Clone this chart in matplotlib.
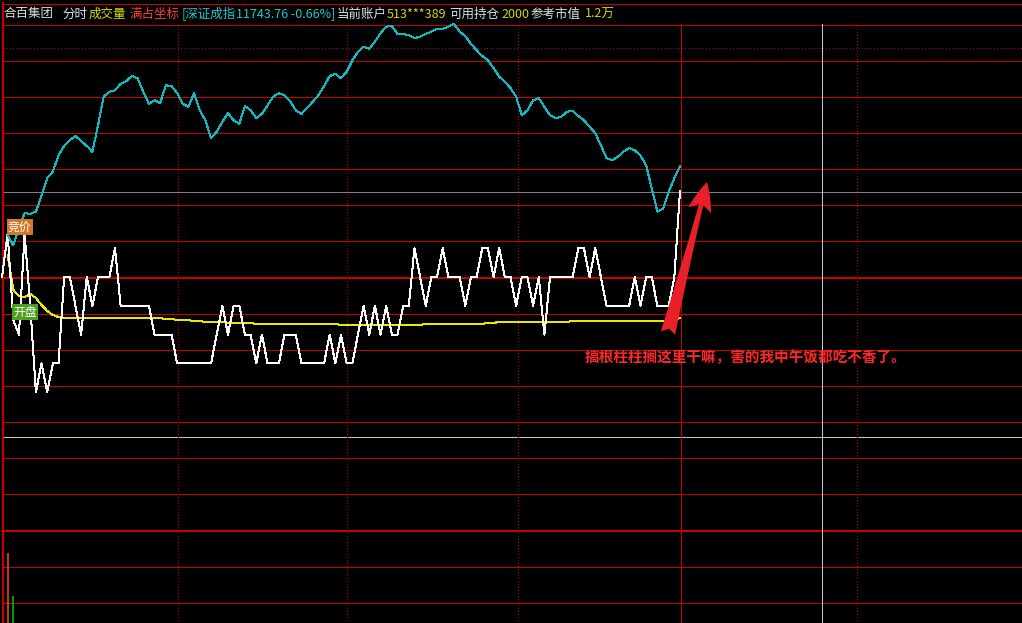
import matplotlib
matplotlib.use('Agg')
import matplotlib.pyplot as plt

plt.rcParams['font.family'] = ['Noto Sans CJK SC', 'DejaVu Sans']

W, H = 1022, 623

# 分时：上午 9:30-11:30，每分钟一个点
minutes = list(range(121))
price = [6.00, 6.03, 5.97, 5.96, 6.03, 5.98, 5.92, 5.94, 5.92, 5.94,
         5.94, 6.00, 6.00, 5.98, 5.96, 6.00, 5.98, 6.00, 6.00, 6.00,
         6.02, 5.98, 5.98, 5.98, 5.98, 5.98, 5.98, 5.96, 5.96, 5.96,
         5.96, 5.94, 5.94, 5.94, 5.94, 5.94, 5.94, 5.94, 5.96, 5.98,
         5.96, 5.98, 5.98, 5.96, 5.96, 5.94, 5.96, 5.94, 5.94, 5.94,
         5.96, 5.96, 5.96, 5.94, 5.94, 5.94, 5.94, 5.94, 5.96, 5.94,
         5.96, 5.94, 5.94, 5.96, 5.98, 5.96, 5.98, 5.96, 5.98, 5.96,
         5.96, 5.98, 5.98, 6.02, 6.00, 5.98, 6.00, 6.00, 6.02, 6.00,
         6.00, 6.00, 5.98, 6.00, 6.00, 6.02, 6.02, 6.00, 6.02, 6.00,
         6.00, 5.98, 6.00, 6.00, 5.98, 6.00, 5.96, 6.00, 6.00, 6.00,
         6.00, 6.00, 6.02, 6.02, 6.00, 6.02, 6.00, 5.98, 5.98, 5.98,
         5.98, 5.98, 6.00, 5.98, 6.00, 6.00, 5.98, 5.98, 5.98, 6.00,
         6.06]

avg_minutes = list(range(1, 121))
avg_price = [6.0153, 5.9910, 5.9868, 5.9861, 5.9882, 5.9854, 5.9806, 5.9764, 5.9736, 5.9722,
             5.9715, 5.9715, 5.9715, 5.9715, 5.9715, 5.9715, 5.9715, 5.9715, 5.9715, 5.9715,
             5.9715, 5.9715, 5.9715, 5.9715, 5.9715, 5.9715, 5.9715, 5.9715, 5.9708, 5.9708,
             5.9701, 5.9701, 5.9701, 5.9694, 5.9694, 5.9688, 5.9688, 5.9688, 5.9688, 5.9681,
             5.9681, 5.9681, 5.9681, 5.9681, 5.9674, 5.9674, 5.9674, 5.9674, 5.9674, 5.9674,
             5.9674, 5.9674, 5.9674, 5.9674, 5.9674, 5.9674, 5.9674, 5.9674, 5.9674, 5.9667,
             5.9667, 5.9667, 5.9667, 5.9667, 5.9667, 5.9667, 5.9667, 5.9667, 5.9667, 5.9667,
             5.9667, 5.9667, 5.9667, 5.9667, 5.9674, 5.9674, 5.9674, 5.9674, 5.9674, 5.9674,
             5.9674, 5.9674, 5.9674, 5.9674, 5.9674, 5.9681, 5.9681, 5.9688, 5.9688, 5.9688,
             5.9688, 5.9688, 5.9688, 5.9688, 5.9688, 5.9688, 5.9688, 5.9688, 5.9688, 5.9688,
             5.9694, 5.9694, 5.9694, 5.9694, 5.9694, 5.9694, 5.9694, 5.9694, 5.9694, 5.9694,
             5.9694, 5.9694, 5.9694, 5.9694, 5.9694, 5.9694, 5.9694, 5.9701, 5.9701, 5.9715]

# 深证成指叠加
idx_minutes = list(range(1, 121))
szcz = [11647, 11633, 11657, 11678, 11677, 11680, 11703, 11727, 11736, 11759,
        11772, 11780, 11786, 11779, 11772, 11764, 11801, 11841, 11848, 11850,
        11859, 11863, 11870, 11867, 11848, 11831, 11836, 11832, 11857, 11856,
        11846, 11831, 11827, 11846, 11822, 11808, 11783, 11792, 11806, 11818,
        11808, 11803, 11828, 11822, 11811, 11817, 11829, 11841, 11846, 11843,
        11835, 11822, 11817, 11825, 11834, 11843, 11856, 11870, 11873, 11867,
        11876, 11892, 11904, 11911, 11908, 11918, 11930, 11939, 11940, 11929,
        11929, 11927, 11923, 11925, 11929, 11932, 11936, 11936, 11939, 11943,
        11932, 11926, 11915, 11906, 11898, 11892, 11881, 11869, 11862, 11853,
        11841, 11815, 11822, 11836, 11839, 11827, 11815, 11811, 11813, 11820,
        11821, 11814, 11808, 11799, 11790, 11773, 11755, 11752, 11757, 11764,
        11769, 11766, 11759, 11745, 11713, 11680, 11684, 11708, 11727, 11743.76]

vol_minutes = [1, 2]
vol = [3500, 1350]
vol_colors = ['#ff4040', '#00c800']

RED = '#c80000'
PX_PER_MIN = 5.65

fig = plt.figure(figsize=(W / 100, H / 100), dpi=100)
fig.patch.set_facecolor('black')

# 背景层：网格、边框、表头（像素坐标）
bg = fig.add_axes([0, 0, 1, 1], zorder=0)
bg.set_xlim(0, W)
bg.set_ylim(H, 0)
bg.axis('off')

lw1 = 0.72
for y in [3, 24, 60, 96, 132, 168, 204, 240, 313, 349, 385, 421, 457, 493, 566, 602]:
    bg.plot([2, W], [y + 0.5, y + 0.5], color=RED, lw=lw1, antialiased=False)
for y in [277, 530]:
    bg.plot([2, W], [y + 1, y + 1], color=RED, lw=lw1 * 2, antialiased=False)
bg.plot([2, W], [191.5, 191.5], color='#808080', lw=lw1, antialiased=False)
bg.plot([2, W], [436.5, 436.5], color='#c8c8c8', lw=lw1, antialiased=False)

# 点线
dot_x = list(range(4, W, 3))
bg.plot(dot_x, [47.5] * len(dot_x), ls='none', marker='s', ms=0.72, mew=0, color='#b00000')
dot_y = list(range(26, H, 3))
for x in [177, 346, 517, 856]:
    bg.plot([x + 0.5] * len(dot_y), dot_y, ls='none', marker='s', ms=0.72, mew=0, color='#b00000')

bg.plot([3, 3], [3, H], color=RED, lw=lw1 * 2, antialiased=False)
bg.plot([680.5, 680.5], [24, H], color=RED, lw=lw1, antialiased=False)
bg.plot([821.5, 821.5], [24, H], color='#c8c8c8', lw=lw1, antialiased=False)

header = [
    (4, '合百集团', '#e0e0e0'),
    (62, '分时', '#e0e0e0'),
    (89, '成交量', '#d8d800'),
    (129, '满占坐标', '#ff3c3c'),
    (182, '[深证成指', '#20c8c8'),
    (236, '11743.76 -0.66%]', '#20c8c8'),
    (337, '当前账户', '#e0e0e0'),
    (387, '513***389', '#d8d800'),
    (449, '可用持仓', '#e0e0e0'),
    (501, '2000', '#d8d800'),
    (531, '参考市值', '#e0e0e0'),
    (585, '1.2万', '#d8d800'),
]
for x, s, c in header:
    bg.text(x, 14, s, color=c, fontsize=9, va='center', ha='left')

# 价格层
ax = fig.add_axes([0, 0, 1, 1], zorder=1)
ax.patch.set_alpha(0)
ax.set_xlim(-2 / PX_PER_MIN, (W - 2) / PX_PER_MIN)
ax.set_ylim(6.00 - 346 / 1440, 6.00 + 277 / 1440)
ax.axis('off')

ax2 = ax.twinx()
ax2.set_ylim(11744 - 457 * 1.4, 11744 + 166 * 1.4)
ax2.axis('off')

ax2.plot(idx_minutes, szcz, color='#10b8c0', lw=lw1, antialiased=False)
ax.plot(avg_minutes, avg_price, color='#e8e800', lw=lw1, antialiased=False, zorder=3)
ax.plot(minutes, price, color='#ffffff', lw=lw1, antialiased=False, zorder=4)

# 成交量
axv = fig.add_axes([0, 0, 1, 93 / H], zorder=1)
axv.patch.set_alpha(0)
axv.set_xlim(ax.get_xlim())
axv.set_ylim(0, 93 * 50)
axv.axis('off')
axv.vlines(vol_minutes, 0, vol, colors=vol_colors, lw=1.1)

# 标签
lab = fig.add_axes([0, 0, 1, 1], zorder=3)
lab.set_xlim(0, W)
lab.set_ylim(H, 0)
lab.axis('off')
lab.text(8, 227, '竞价', color='white', fontsize=8.5, va='center', ha='left',
         bbox=dict(boxstyle='square,pad=0.12', fc='#d07828', ec='none'))
lab.text(13, 312, '开盘', color='white', fontsize=8.5, va='center', ha='left',
         bbox=dict(boxstyle='square,pad=0.12', fc='#50a020', ec='none'))

# 箭头与吐槽
lab.annotate('', xy=(707, 182), xytext=(668, 333),
             arrowprops=dict(arrowstyle='fancy,head_length=1.5,head_width=1.2,tail_width=0.75',
                             fc='#e8202a', ec='none', mutation_scale=14, shrinkA=0, shrinkB=0))
lab.text(585, 357, '搞根柱柱搁这里干嘛，害的我中午饭都吃不香了。', color='#ff2828',
         fontsize=10.5, fontweight='bold', va='center', ha='left')

fig.savefig('out.png', dpi=100, facecolor=fig.get_facecolor())
